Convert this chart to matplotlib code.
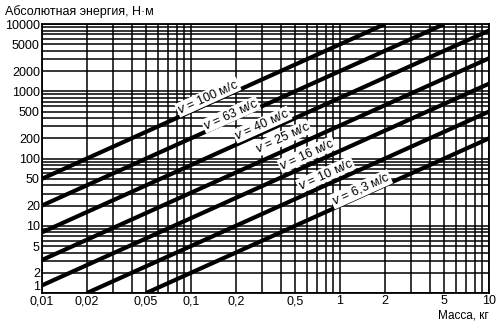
import numpy as np
import matplotlib.pyplot as plt
from matplotlib.ticker import FixedLocator, FixedFormatter, NullFormatter

plt.rcParams['font.family'] = ['Liberation Sans', 'DejaVu Sans']

# line endpoints (mass kg, energy N*m)
speeds = ['100', '63', '40', '25', '16', '10', '6,3']
mass_start = [0.01, 0.01, 0.01, 0.01, 0.01, 0.02, 0.05]
energy_start = [50, 20, 8, 3.1, 1.3, 1, 1]
mass_end = [2, 5, 10, 10, 10, 10, 10]
energy_end = [10000, 10000, 8000, 3100, 1300, 500, 200]

# label anchor positions (data coords)
label_mass = [0.13, 0.185, 0.30, 0.41, 0.60, 0.80, 1.38]
label_energy = [820, 450, 320, 200, 115, 58, 35]

x_ticks = [0.01, 0.02, 0.05, 0.1, 0.2, 0.5, 1, 2, 5, 10]
x_labels = ['0,01', '0,02', '0,05', '0,1', '0,2', '0,5', '1', '2', '5', '10']
y_ticks = [1, 2, 5, 10, 20, 50, 100, 200, 500, 1000, 2000, 5000, 10000]
y_labels = [str(t) for t in y_ticks]

fig = plt.figure(figsize=(4.99, 3.21), dpi=100)
ax = fig.add_axes([0.084, 0.087, 0.896, 0.838])
ax.set_xscale('log')
ax.set_yscale('log')
ax.set_xlim(0.01, 10)
ax.set_ylim(1, 10000)

# full log grid
minor_x = [m * 10.0**d for d in (-2, -1, 0) for m in range(1, 10)] + [10]
minor_y = [m * 10.0**d for d in range(0, 4) for m in range(1, 10)] + [10000]
for xv in minor_x:
    ax.axvline(xv, color='black', lw=1.1, zorder=1)
for yv in minor_y:
    ax.axhline(yv, color='black', lw=1.1, zorder=1)

for i in range(len(speeds)):
    ax.plot([mass_start[i], mass_end[i]], [energy_start[i], energy_end[i]],
            color='black', lw=3.0, solid_capstyle='butt', zorder=3)

# rotation of a slope-1 line in display space
p0 = ax.transData.transform((0.1, 10))
p1 = ax.transData.transform((1, 100))
ang = np.degrees(np.arctan2(p1[1] - p0[1], p1[0] - p0[0]))

for i in range(len(speeds)):
    ax.text(label_mass[i], label_energy[i], '$v$ = ' + speeds[i] + ' м/с',
            fontsize=9, rotation=ang, rotation_mode='anchor',
            ha='center', va='center', zorder=4,
            bbox=dict(facecolor='white', edgecolor='none', pad=0.5))

ax.xaxis.set_major_locator(FixedLocator(x_ticks))
ax.xaxis.set_major_formatter(FixedFormatter(x_labels))
ax.xaxis.set_minor_formatter(NullFormatter())
ax.yaxis.set_major_locator(FixedLocator(y_ticks))
ax.yaxis.set_major_formatter(FixedFormatter(y_labels))
ax.yaxis.set_minor_formatter(NullFormatter())
ax.tick_params(which='both', length=0, labelsize=9, pad=1.5)
fig.canvas.draw()
ylabs = ax.get_yticklabels()
for lab in ylabs:
    lab.set_verticalalignment('center_baseline')
ylabs[0].set_verticalalignment('bottom')
for s in ax.spines.values():
    s.set_linewidth(1.3)

fig.text(0.01, 0.985, 'Абсолютная энергия, Н·м', fontsize=9, va='top')
fig.text(0.98, 0.0, 'Масса, кг', fontsize=8.5, ha='right', va='bottom')

fig.savefig('out.png', dpi=100)
